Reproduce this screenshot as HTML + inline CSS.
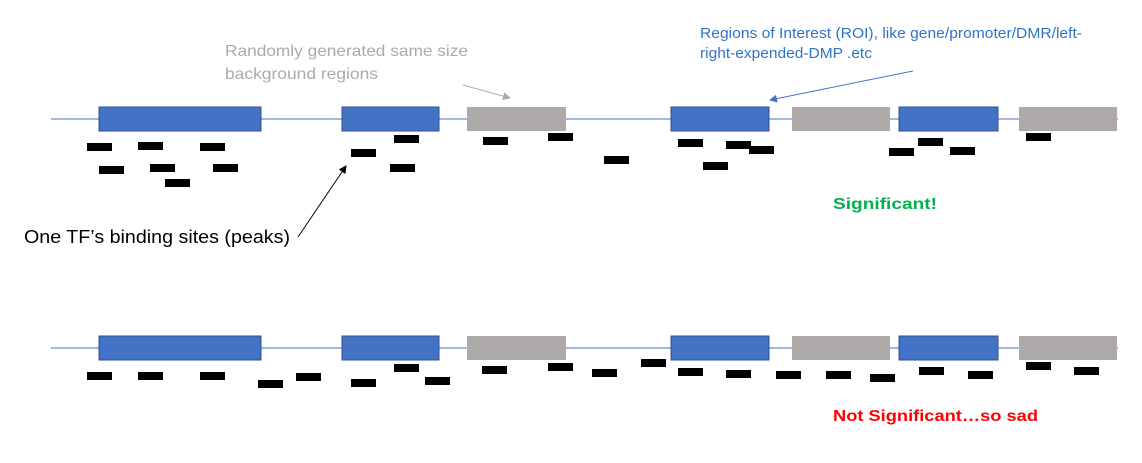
<!DOCTYPE html>
<html><head><meta charset="utf-8"><style>
html,body{margin:0;padding:0;background:#fff;}
svg{display:block;font-family:"Liberation Sans",sans-serif;}
</style></head><body>
<svg id="chart" width="1142" height="463" viewBox="0 0 1142 463" xmlns="http://www.w3.org/2000/svg">
<defs>
<marker id="ag" markerWidth="8" markerHeight="8" refX="7" refY="4" orient="auto"><path d="M0,0 L8,4 L0,8 z" fill="#aeaaaa"/></marker>
<marker id="ab" markerWidth="8" markerHeight="8" refX="7" refY="4" orient="auto"><path d="M0,0 L8,4 L0,8 z" fill="#4472c4"/></marker>
<marker id="ak" markerWidth="8" markerHeight="8" refX="7" refY="4" orient="auto"><path d="M0,0 L8,4 L0,8 z" fill="#000"/></marker>
</defs>
<g id="tracks"></g>
<text fill="#aeaaaa" font-size="16" x="225" y="56" textLength="243" lengthAdjust="spacingAndGlyphs">Randomly generated same size</text>
<text fill="#aeaaaa" font-size="16" x="225" y="79" textLength="153" lengthAdjust="spacingAndGlyphs">background regions</text>
<line x1="463" y1="85" x2="510" y2="98" stroke="#aeaaaa" stroke-width="1" marker-end="url(#ag)"/>
<text fill="#2e75c8" font-size="15" x="700" y="38" textLength="382" lengthAdjust="spacingAndGlyphs">Regions of Interest (ROI), like gene/promoter/DMR/left-</text>
<text fill="#2e75c8" font-size="15" x="700" y="58" textLength="172" lengthAdjust="spacingAndGlyphs">right-expended-DMP .etc</text>
<line x1="913" y1="71" x2="770" y2="100" stroke="#4472c4" stroke-width="1" marker-end="url(#ab)"/>
<text fill="#000" font-size="18" x="24" y="243" textLength="266" lengthAdjust="spacingAndGlyphs">One TF’s binding sites (peaks)</text>
<line x1="298" y1="237" x2="346" y2="166" stroke="#000" stroke-width="1" marker-end="url(#ak)"/>
<text fill="#00b050" font-size="16" font-weight="bold" x="833" y="209" textLength="104" lengthAdjust="spacingAndGlyphs">Significant!</text>
<text fill="#ff0000" font-size="16" font-weight="bold" x="833" y="421" textLength="205" lengthAdjust="spacingAndGlyphs">Not Significant…so sad</text>
</svg>
<script>
const regionStarts = [99, 342, 467, 671, 792, 899, 1019];
const regionEnds   = [261, 439, 566, 769, 890, 998, 1117];
const regionTypes  = ["roi","roi","bg","roi","bg","roi","bg"];
const trackLineY = [119, 348];
const peaksTopX = [87,138,200,99,150,213,165,351,394,390,483,548,604,678,726,749,703,889,918,950,1026];
const peaksTopY = [143,142,143,166,164,164,179,149,135,164,137,133,156,139,141,146,162,148,138,147,133];
const peaksBotX = [87,138,200,258,296,351,394,425,482,548,592,641,678,726,776,826,870,919,968,1026,1074];
const peaksBotY = [372,372,372,380,373,379,364,377,366,363,369,359,368,370,371,371,374,367,371,362,367];
const NS='http://www.w3.org/2000/svg';
const g=document.getElementById('tracks');
function mk(tag,attrs){const e=document.createElementNS(NS,tag);for(const k in attrs)e.setAttribute(k,attrs[k]);g.appendChild(e);return e;}
trackLineY.forEach((ly,t)=>{
  const l=mk('line',{x1:51,x2:1118,y1:ly,y2:ly,stroke:'#4472c4','stroke-width':1});
  
  
  regionStarts.forEach((s,i)=>{
    const roi=regionTypes[i]==='roi';
    const r=mk('rect',{x:s,y:ly-12,width:regionEnds[i]-s,height:24,fill:roi?'#4472c4':'#aeaaaa',stroke:roi?'#2f528f':'none','stroke-width':1});
    
    
  });
  const px=t===0?peaksTopX:peaksBotX, py=t===0?peaksTopY:peaksBotY;
  px.forEach((x,i)=>{
    const p=mk('rect',{x:x,y:py[i],width:25,height:8,fill:'#000'});
    
    
  });
});
</script>
</body></html>
